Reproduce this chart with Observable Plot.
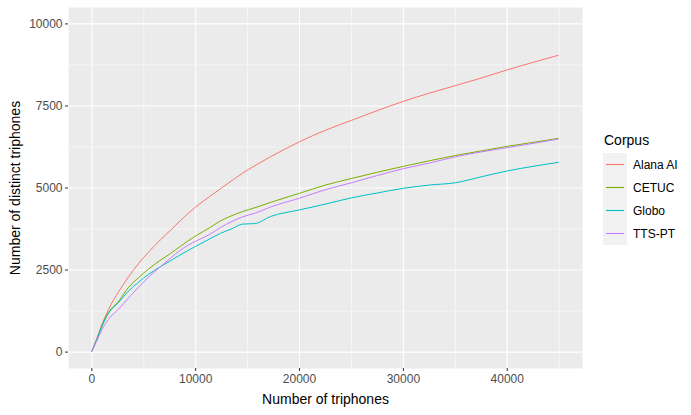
<!DOCTYPE html>
<html>
<head>
<meta charset="utf-8">
<script src="https://cdn.jsdelivr.net/npm/d3@7"></script>
<script src="https://cdn.jsdelivr.net/npm/@observablehq/plot@0.6"></script>
<style>
  html, body { margin: 0; padding: 0; background: #fff; }
  #wrap { position: relative; width: 691px; height: 415px; font-family: "Liberation Sans", Arial, sans-serif; }
  #legend { position: absolute; left: 600px; top: 128px; }
</style>
</head>
<body>
<div id="wrap"></div>
<script>
const corpora = ["Alana AI", "CETUC", "Globo", "TTS-PT"];
const colors = ["#F8766D", "#7CAE00", "#00BFC4", "#C77CFF"];
const triphones = [0, 500, 1000, 1600, 2600, 3500, 4500, 5500, 6600, 7600, 8500, 10000, 11300, 12400, 13500, 14500, 15700, 17200, 20000, 22500, 25000, 27500, 30000, 32500, 35000, 37500, 40000, 42500, 44900];
const alanaAI = [30, 420, 860, 1300, 1850, 2280, 2700, 3060, 3420, 3720, 4000, 4420, 4730, 4980, 5230, 5450, 5680, 5950, 6410, 6760, 7060, 7360, 7640, 7890, 8120, 8350, 8600, 8830, 9040];
const cetuc   = [30, 420, 850, 1210, 1560, 1960, 2270, 2540, 2800, 3010, 3220, 3540, 3780, 4000, 4160, 4280, 4400, 4560, 4840, 5090, 5290, 5480, 5660, 5830, 5990, 6130, 6270, 6390, 6510];
const globo   = [30, 410, 800, 1180, 1520, 1850, 2130, 2380, 2600, 2790, 2960, 3222, 3440, 3620, 3760, 3900, 3915, 4130, 4333, 4510, 4700, 4850, 4990, 5090, 5160, 5340, 5520, 5660, 5780];
const ttsPT   = [30, 360, 700, 1000, 1320, 1640, 1980, 2300, 2600, 2870, 3100, 3380, 3576, 3800, 3980, 4120, 4230, 4420, 4690, 4950, 5160, 5380, 5590, 5760, 5950, 6100, 6230, 6360, 6490];
const series = [alanaAI, cetuc, globo, ttsPT];

const xMajor = [0, 10000, 20000, 30000, 40000];
const xMinor = [5000, 15000, 25000, 35000, 45000];
const yMajor = [0, 2500, 5000, 7500, 10000];
const yMinor = [1250, 3750, 6250, 8750];

const data = [];
corpora.forEach((c, i) => triphones.forEach((t, j) => data.push({corpus: c, x: t, y: series[i][j]})));

const font = '"Liberation Sans", Arial, sans-serif';
const chart = Plot.plot({
  width: 691,
  height: 415,
  marginLeft: 68,
  marginRight: 109,
  marginTop: 7,
  marginBottom: 47,
  style: {fontFamily: font, background: "#fff"},
  x: {domain: [-2250, 47250]},
  y: {domain: [-500, 10500]},
  color: {domain: corpora, range: colors},
  marks: [
    Plot.frame({fill: "#EBEBEB", stroke: null}),
    Plot.ruleX(xMinor, {stroke: "#fff", strokeWidth: 0.55}),
    Plot.ruleY(yMinor, {stroke: "#fff", strokeWidth: 0.55}),
    Plot.ruleX(xMajor, {stroke: "#fff", strokeWidth: 1.1}),
    Plot.ruleY(yMajor, {stroke: "#fff", strokeWidth: 1.1}),
    Plot.line(data, {x: "x", y: "y", z: "corpus", stroke: "corpus", strokeWidth: 1, curve: "monotone-x"}),
    Plot.axisX(xMajor, {tickSize: 3, tickPadding: 3, stroke: "#333", fill: "#4D4D4D", fontSize: 12, label: null, tickFormat: d => String(d)}),
    Plot.axisY(yMajor, {tickSize: 3, tickPadding: 3, stroke: "#333", fill: "#4D4D4D", fontSize: 12, label: null, tickFormat: d => String(d)}),
    Plot.text(["Number of triphones"], {frameAnchor: "bottom", dy: 31, fontSize: 14, fill: "#000", lineAnchor: "middle"}),
    Plot.text(["Number of distinct triphones"], {frameAnchor: "left", dx: -53, rotate: -90, fontSize: 14, fill: "#000", lineAnchor: "middle", textAnchor: "middle"})
  ]
});
const wrap = document.getElementById("wrap");
wrap.appendChild(chart);

// Legend (ggplot style)
const lw = 90, rowH = 23, keyTop = 25, keyX = 3, keyW = 24;
const lg = d3.create("svg").attr("id", "legend").attr("width", lw).attr("height", keyTop + rowH * corpora.length + 2)
  .style("font-family", font);
lg.append("text").attr("x", keyX + 1).attr("y", 17).attr("font-size", 14).attr("fill", "#000").text("Corpus");
lg.append("rect").attr("x", keyX).attr("y", keyTop).attr("width", keyW).attr("height", rowH * corpora.length).attr("fill", "#F2F2F2");
corpora.forEach((c, i) => {
  const cy = keyTop + rowH * i + 11.5;
  lg.append("line").attr("x1", keyX + 3).attr("x2", keyX + keyW - 3).attr("y1", cy).attr("y2", cy)
    .attr("stroke", colors[i]).attr("stroke-width", 1.1);
  lg.append("text").attr("x", keyX + keyW + 6).attr("y", cy).attr("dy", "0.35em").attr("font-size", 12).attr("fill", "#000").text(c);
});
wrap.appendChild(lg.node());
</script>
</body>
</html>
